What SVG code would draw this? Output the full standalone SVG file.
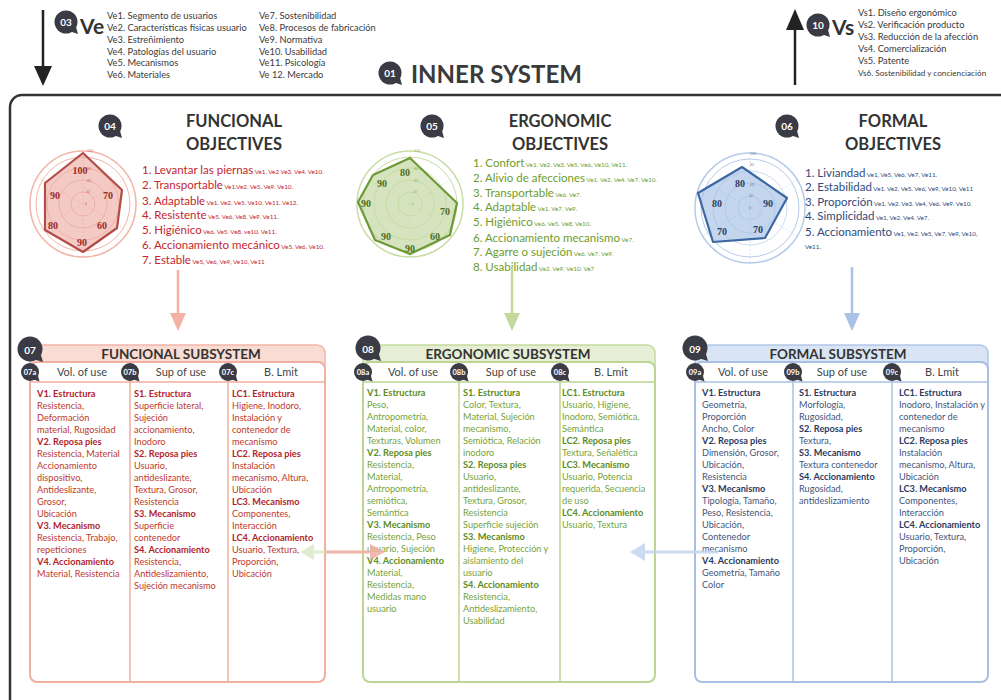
<svg xmlns="http://www.w3.org/2000/svg" xmlns:xlink="http://www.w3.org/1999/xlink" width="1001" height="700" viewBox="0 0 1001 700">
<style>
text{font-family:Lato,"Liberation Sans",sans-serif}
.ve{font-size:9.3px;fill:#3a3a3a}
.big{font-size:21px;font-weight:bold;fill:#333}
.bn{font-size:10px;font-weight:bold;fill:#fff;text-anchor:middle}
.bs{font-size:7.5px;font-weight:bold;fill:#fff;text-anchor:middle}
.ttl{font-size:16.5px;font-weight:bold;fill:#333;text-anchor:middle}
.ob{font-size:11.5px}
.rf{font-size:6.3px}
.red{fill:#c4262e}
.grn{fill:#6e9c2c}
.blu{fill:#2f4a7c}
.rl{font-family:"Liberation Serif",serif;font-size:10px;font-weight:bold;text-anchor:middle}
.tk{font-size:3.5px;text-anchor:middle;opacity:.6}
.sst{font-size:13.5px;font-weight:bold;fill:#333;text-anchor:middle}
.ch{font-size:11px;fill:#444;text-anchor:middle}
.st{font-size:9.2px}
.b{font-weight:bold}
.fs{fill:#c0392b}.fsb{fill:#b3232b}
.es{fill:#76a33a}.esb{fill:#5d8c22}
.ms{fill:#44567c}.msb{fill:#2c3a5e}
</style>
<defs>
<g id="bL"><circle r="11.5" fill="#3b3b45"/><path d="M3,9 L12,12 L9.5,3 Z" fill="#3b3b45"/></g>
<g id="bM"><circle r="12.5" fill="#3b3b45"/><path d="M3,10 L13,13 L10,3 Z" fill="#3b3b45"/></g>
<g id="bS"><circle r="9" fill="#3b3b45"/><path d="M2,7 L9.5,9.5 L7.5,2 Z" fill="#3b3b45"/></g>
</defs>
<rect width="1001" height="700" fill="#fff"/>

<!-- Top Ve block -->
<g id="ve-input">
<line x1="43" y1="10" x2="43" y2="70" stroke="#222" stroke-width="2.5"/>
<path d="M34,66 L52,66 L43,86 Z" fill="#222"/>
<use href="#bL" x="66" y="22"/>
<text x="66" y="26" class="bn">03</text>
<text x="80" y="34" class="big">Ve</text>
<text class="ve"><tspan x="107" y="19">Ve1. Segmento de usuarios</tspan><tspan x="107" y="31">Ve2. Características físicas usuario</tspan><tspan x="107" y="43">Ve3. Estreñimiento</tspan><tspan x="107" y="55">Ve4. Patologías del usuario</tspan><tspan x="107" y="66">Ve5. Mecanismos</tspan><tspan x="107" y="78">Ve6. Materiales</tspan></text>
<text class="ve"><tspan x="259" y="19">Ve7. Sostenibilidad</tspan><tspan x="259" y="31">Ve8. Procesos de fabricación</tspan><tspan x="259" y="43">Ve9. Normativa</tspan><tspan x="259" y="55">Ve10. Usabilidad</tspan><tspan x="259" y="66">Ve11. Psicología</tspan><tspan x="259" y="78">Ve 12. Mercado</tspan></text>
</g>

<g id="title">
<use href="#bL" x="390" y="73"/>
<text x="390" y="77" class="bn">01</text>
<text x="411" y="83" font-size="24" font-weight="bold" fill="#3a3a3a">INNER SYSTEM</text>
</g>

<g id="vs-output">
<line x1="795" y1="85" x2="795" y2="26" stroke="#222" stroke-width="2.5"/>
<path d="M786,30 L804,30 L795,9 Z" fill="#222"/>
<use href="#bL" x="818" y="25"/>
<text x="818" y="29" class="bn">10</text>
<text x="832" y="35" class="big">Vs</text>
<text class="ve"><tspan x="858" y="16">Vs1. Diseño ergonómico</tspan><tspan x="858" y="28">Vs2. Verificación producto</tspan><tspan x="858" y="40">Vs3. Reducción de la afección</tspan><tspan x="858" y="52">Vs4. Comercialización</tspan><tspan x="858" y="64">Vs5. Patente</tspan></text>
<text class="ve" x="858" y="76" style="font-size:8.2px">Vs6. Sostenibilidad y concienciación</text>
</g>

<!-- Inner system container -->
<rect x="10" y="95" width="1010" height="630" rx="12" fill="none" stroke="#333" stroke-width="2.5"/>

<!-- 04 Funcional objectives -->
<g id="funcional-objectives">
<use href="#bL" x="110" y="126"/>
<text x="110" y="130" class="bn">04</text>
<text x="234" y="127" class="ttl">FUNCIONAL</text>
<text x="234" y="150" class="ttl">OBJECTIVES</text>
<g fill="none" stroke="#f2b4a8">
<circle cx="83" cy="204" r="53" stroke-width="1.5"/>
<circle cx="83" cy="204" r="47" stroke-width="1"/>
<circle cx="83" cy="204" r="36" stroke-width=".7"/>
<circle cx="83" cy="204" r="24" stroke-width=".7"/>
<circle cx="83" cy="204" r="12" stroke-width=".7"/>
<path d="M83,151 V257 M37,177 L129,231 M37,231 L129,177" stroke-width=".5" stroke-dasharray="2,2"/>
</g>
<polygon points="83,153 122,190 117,228 83,252 45,230 45,183" fill="#e7958a" fill-opacity=".5" stroke="#b24c48" stroke-width="2.2" stroke-linejoin="round"/>
<g class="red"><text x="90" y="152" class="tk">100</text><text x="89" y="170" class="tk">80</text><text x="89" y="182" class="tk">60</text><text x="88" y="193" class="tk">20</text><text x="86" y="205" class="tk">0</text></g>
<g fill="#9a2a2a"><text x="80" y="174" class="rl">100</text><text x="108" y="199" class="rl">70</text><text x="102" y="229" class="rl">60</text><text x="82" y="246" class="rl">90</text><text x="53" y="229" class="rl">80</text><text x="55" y="199" class="rl">90</text></g>
<g class="red">
<text x="142" y="174"><tspan class="ob">1. Levantar las piernas</tspan><tspan class="rf"> Ve1. Ve2 Ve3. Ve4. Ve10.</tspan></text>
<text x="142" y="189"><tspan class="ob">2. Transportable</tspan><tspan class="rf"> Ve1.Ve2. Ve5. Ve9. Ve10.</tspan></text>
<text x="142" y="205"><tspan class="ob">3. Adaptable</tspan><tspan class="rf"> Ve1.  Ve2. Ve5. Ve10. Ve11. Ve12.</tspan></text>
<text x="142" y="219"><tspan class="ob">4. Resistente</tspan><tspan class="rf"> Ve5. Ve6. Ve8. Ve9. Ve11.</tspan></text>
<text x="142" y="234"><tspan class="ob">5. Higiénico</tspan><tspan class="rf"> Ve6. Ve5. Ve8. ve10. Ve11.</tspan></text>
<text x="142" y="249"><tspan class="ob">6. Accionamiento mecánico</tspan><tspan class="rf"> Ve5. Ve6. Ve10.</tspan></text>
<text x="142" y="264"><tspan class="ob">7. Estable</tspan><tspan class="rf"> Ve5, Ve6, Ve9, Ve10, Ve11</tspan></text>
</g>
</g>

<!-- 05 Ergonomic objectives -->
<g id="ergonomic-objectives">
<use href="#bL" x="432" y="126"/>
<text x="432" y="130" class="bn">05</text>
<text x="560" y="127" class="ttl">ERGONOMIC</text>
<text x="560" y="150" class="ttl">OBJECTIVES</text>
<g fill="none" stroke="#c9dca6">
<circle cx="410" cy="204" r="53" stroke-width="1.5"/>
<circle cx="410" cy="204" r="47" stroke-width="1"/>
<circle cx="410" cy="204" r="36" stroke-width=".7"/>
<circle cx="410" cy="204" r="24" stroke-width=".7"/>
<circle cx="410" cy="204" r="12" stroke-width=".7"/>
<path d="M410,151 V257 M364,177 L456,231 M364,231 L456,177" stroke-width=".5" stroke-dasharray="2,2"/>
</g>
<polygon points="410,158 457,203 450,235 410,254 375,240 358,202 373,175" fill="#b9d292" fill-opacity=".6" stroke="#6e9a36" stroke-width="2.2" stroke-linejoin="round"/>
<g class="grn"><text x="417" y="152" class="tk">100</text><text x="416" y="170" class="tk">80</text><text x="416" y="182" class="tk">60</text><text x="415" y="193" class="tk">20</text><text x="413" y="205" class="tk">0</text></g>
<g fill="#4f6e22"><text x="405" y="176" class="rl">80</text><text x="382" y="187" class="rl">90</text><text x="366" y="207" class="rl">90</text><text x="445" y="215" class="rl">70</text><text x="435" y="240" class="rl">60</text><text x="410" y="252" class="rl">90</text><text x="386" y="240" class="rl">90</text></g>
<g class="grn">
<text x="473" y="167"><tspan class="ob">1. Confort</tspan><tspan class="rf">  Ve1. Ve2. Ve3. Ve5. Ve6, Ve10,  Ve11.</tspan></text>
<text x="473" y="182"><tspan class="ob">2. Alivio de afecciones</tspan><tspan class="rf"> Ve1. Ve2.  Ve4. Ve7. Ve10.</tspan></text>
<text x="473" y="197"><tspan class="ob">3. Transportable</tspan><tspan class="rf"> Ve6. Ve7.</tspan></text>
<text x="473" y="211"><tspan class="ob">4. Adaptable</tspan><tspan class="rf"> Ve1.  Ve7. Ve9.</tspan></text>
<text x="473" y="226"><tspan class="ob">5. Higiénico</tspan><tspan class="rf"> Ve6. Ve5. Ve8. Ve10.</tspan></text>
<text x="473" y="242"><tspan class="ob">6. Accionamiento mecanismo</tspan><tspan class="rf"> Ve7.</tspan></text>
<text x="473" y="256"><tspan class="ob">7. Agarre o sujeción</tspan><tspan class="rf"> Ve6. Ve7. Ve9.</tspan></text>
<text x="473" y="271"><tspan class="ob">8. Usabilidad</tspan><tspan class="rf"> Ve2. Ve9. Ve10. Ve7</tspan></text>
</g>
</g>

<!-- 06 Formal objectives -->
<g id="formal-objectives">
<use href="#bL" x="787" y="126"/>
<text x="787" y="130" class="bn">06</text>
<text x="893" y="127" class="ttl">FORMAL</text>
<text x="893" y="150" class="ttl">OBJECTIVES</text>
<g fill="none" stroke="#b5cbe8">
<circle cx="750" cy="208" r="55" stroke-width="1.5"/>
<circle cx="750" cy="208" r="49" stroke-width="1"/>
<circle cx="750" cy="208" r="37" stroke-width=".7"/>
<circle cx="750" cy="208" r="25" stroke-width=".7"/>
<circle cx="750" cy="208" r="12" stroke-width=".7"/>
<path d="M750,153 V263 M703,180 L797,236 M703,236 L797,180" stroke-width=".5" stroke-dasharray="2,2"/>
</g>
<polygon points="742,167 787,198 765,238 713,242 698,193" fill="#9dbbe2" fill-opacity=".6" stroke="#3d67a3" stroke-width="2.2" stroke-linejoin="round"/>
<g class="blu"><text x="753" y="155" class="tk">100</text><text x="752" y="166" class="tk">80</text><text x="752" y="186" class="tk">40</text><text x="751" y="197" class="tk">20</text><text x="750" y="209" class="tk">0</text></g>
<g fill="#2d3f63"><text x="740" y="187" class="rl">80</text><text x="717" y="207" class="rl">80</text><text x="768" y="207" class="rl">90</text><text x="722" y="235" class="rl">70</text><text x="758" y="233" class="rl">70</text></g>
<g class="blu">
<text x="805" y="177"><tspan class="ob">1. Liviandad</tspan><tspan class="rf"> Ve1, Ve5, Ve6, Ve7, Ve11.</tspan></text>
<text x="805" y="191"><tspan class="ob">2. Estabilidad</tspan><tspan class="rf"> Ve1. Ve2. Ve5. Ve6, Ve9, Ve10,  Ve11</tspan></text>
<text x="805" y="206"><tspan class="ob">3. Proporción</tspan><tspan class="rf">  Ve1. Ve2.  Ve3. Ve4, Ve6. Ve9. Ve10.</tspan></text>
<text x="805" y="220"><tspan class="ob">4. Simplicidad</tspan><tspan class="rf"> Ve1, Ve2. Ve4. Ve7.</tspan></text>
<text x="805" y="236"><tspan class="ob">5. Accionamiento</tspan><tspan class="rf"> Ve1,  Ve2. Ve5, Ve7, Ve9, Ve10,</tspan></text>
<text x="805" y="249" class="rf">Ve11.</text>
</g>
</g>

<!-- 07 Funcional subsystem -->
<g id="funcional-subsystem">
<rect x="30" y="345" width="295" height="40" rx="8" fill="#f9dcd3" stroke="#f2b4a8" stroke-width="1.5"/>
<rect x="30" y="362" width="295" height="320" rx="7" fill="#fff" stroke="#f2aea0" stroke-width="2"/>
<line x1="30" y1="382" x2="325" y2="382" stroke="#f2aea0" stroke-width="1.5"/>
<line x1="130" y1="362" x2="130" y2="682" stroke="#f2aea0" stroke-width="1.5"/>
<line x1="228" y1="362" x2="228" y2="682" stroke="#f2aea0" stroke-width="1.5"/>
<use href="#bM" x="30" y="349"/>
<text x="30" y="354" class="bn" font-size="12">07</text>
<text x="181" y="359" class="sst">FUNCIONAL SUBSYSTEM</text>
<use href="#bS" x="30" y="372"/><text x="30" y="375" class="bs">07a</text>
<use href="#bS" x="130" y="372"/><text x="130" y="375" class="bs">07b</text>
<use href="#bS" x="228" y="372"/><text x="228" y="375" class="bs">07c</text>
<text x="82" y="376" class="ch">Vol. of use</text>
<text x="181" y="376" class="ch">Sup of use</text>
<text x="281" y="376" class="ch">B. Lmit</text>
<text class="st fs"><tspan x="37" y="397" class="b fsb">V1. Estructura</tspan><tspan x="37" dy="12">Resistencia,</tspan><tspan x="37" dy="12">Deformación</tspan><tspan x="37" dy="12">material, Rugosidad</tspan><tspan x="37" dy="12" class="b fsb">V2. Reposa pies</tspan><tspan x="37" dy="12">Resistencia, Material</tspan><tspan x="37" dy="12">Accionamiento</tspan><tspan x="37" dy="12">dispositivo,</tspan><tspan x="37" dy="12">Antideslizante,</tspan><tspan x="37" dy="12">Grosor,</tspan><tspan x="37" dy="12">Ubicación</tspan><tspan x="37" dy="12" class="b fsb">V3. Mecanismo</tspan><tspan x="37" dy="12">Resistencia, Trabajo,</tspan><tspan x="37" dy="12">repeticiones</tspan><tspan x="37" dy="12" class="b fsb">V4. Accionamiento</tspan><tspan x="37" dy="12">Material, Resistencia</tspan></text>
<text class="st fs"><tspan x="134" y="397" class="b fsb">S1. Estructura</tspan><tspan x="134" dy="12">Superficie lateral,</tspan><tspan x="134" dy="12">Sujeción</tspan><tspan x="134" dy="12">accionamiento,</tspan><tspan x="134" dy="12">Inodoro</tspan><tspan x="134" dy="12" class="b fsb">S2. Reposa pies</tspan><tspan x="134" dy="12">Usuario,</tspan><tspan x="134" dy="12">antideslizante,</tspan><tspan x="134" dy="12">Textura, Grosor,</tspan><tspan x="134" dy="12">Resistencia</tspan><tspan x="134" dy="12" class="b fsb">S3. Mecanismo</tspan><tspan x="134" dy="12">Superficie</tspan><tspan x="134" dy="12">contenedor</tspan><tspan x="134" dy="12" class="b fsb">S4. Accionamiento</tspan><tspan x="134" dy="12">Resistencia,</tspan><tspan x="134" dy="12">Antideslizamiento,</tspan><tspan x="134" dy="12">Sujeción mecanismo</tspan></text>
<text class="st fs"><tspan x="232" y="397" class="b fsb">LC1. Estructura</tspan><tspan x="232" dy="12">Higiene, Inodoro,</tspan><tspan x="232" dy="12">Instalación y</tspan><tspan x="232" dy="12">contenedor de</tspan><tspan x="232" dy="12">mecanismo</tspan><tspan x="232" dy="12" class="b fsb">LC2. Reposa pies</tspan><tspan x="232" dy="12">Instalación</tspan><tspan x="232" dy="12">mecanismo, Altura,</tspan><tspan x="232" dy="12">Ubicación</tspan><tspan x="232" dy="12" class="b fsb">LC3. Mecanismo</tspan><tspan x="232" dy="12">Componentes,</tspan><tspan x="232" dy="12">Interacción</tspan><tspan x="232" dy="12" class="b fsb">LC4. Accionamiento</tspan><tspan x="232" dy="12">Usuario, Textura,</tspan><tspan x="232" dy="12">Proporción,</tspan><tspan x="232" dy="12">Ubicación</tspan></text>
</g>

<!-- 08 Ergonomic subsystem -->
<g id="ergonomic-subsystem">
<rect x="363" y="345" width="292" height="40" rx="8" fill="#e6efd6" stroke="#c3da9c" stroke-width="1.5"/>
<rect x="363" y="362" width="292" height="320" rx="7" fill="#fff" stroke="#bcd595" stroke-width="2"/>
<line x1="363" y1="382" x2="655" y2="382" stroke="#bcd595" stroke-width="1.5"/>
<line x1="459" y1="362" x2="459" y2="682" stroke="#bcd595" stroke-width="1.5"/>
<line x1="560" y1="362" x2="560" y2="682" stroke="#bcd595" stroke-width="1.5"/>
<use href="#bM" x="368" y="348"/>
<text x="368" y="353" class="bn" font-size="12">08</text>
<text x="508" y="359" class="sst">ERGONOMIC SUBSYSTEM</text>
<use href="#bS" x="363" y="372"/><text x="363" y="375" class="bs">08a</text>
<use href="#bS" x="459" y="372"/><text x="459" y="375" class="bs">08b</text>
<use href="#bS" x="560" y="372"/><text x="560" y="375" class="bs">08c</text>
<text x="413" y="376" class="ch">Vol. of use</text>
<text x="511" y="376" class="ch">Sup of use</text>
<text x="611" y="376" class="ch">B. Lmit</text>
<text class="st es"><tspan x="367" y="396" class="b esb">V1. Estructura</tspan><tspan x="367" dy="12">Peso,</tspan><tspan x="367" dy="12">Antropometría,</tspan><tspan x="367" dy="12">Material, color,</tspan><tspan x="367" dy="12">Texturas, Volumen</tspan><tspan x="367" dy="12" class="b esb">V2. Reposa pies</tspan><tspan x="367" dy="12">Resistencia,</tspan><tspan x="367" dy="12">Material,</tspan><tspan x="367" dy="12">Antropometría,</tspan><tspan x="367" dy="12">semiótica,</tspan><tspan x="367" dy="12">Semántica</tspan><tspan x="367" dy="12" class="b esb">V3. Mecanismo</tspan><tspan x="367" dy="12">Resistencia, Peso</tspan><tspan x="367" dy="12">usuario, Sujeción</tspan><tspan x="367" dy="12" class="b esb">V4. Accionamiento</tspan><tspan x="367" dy="12">Material,</tspan><tspan x="367" dy="12">Resistencia,</tspan><tspan x="367" dy="12">Medidas mano</tspan><tspan x="367" dy="12">usuario</tspan></text>
<text class="st es"><tspan x="463" y="396" class="b esb">S1. Estructura</tspan><tspan x="463" dy="12">Color, Textura,</tspan><tspan x="463" dy="12">Material, Sujeción</tspan><tspan x="463" dy="12">mecanismo,</tspan><tspan x="463" dy="12">Semiótica, Relación</tspan><tspan x="463" dy="12">inodoro</tspan><tspan x="463" dy="12" class="b esb">S2. Reposa pies</tspan><tspan x="463" dy="12">Usuario,</tspan><tspan x="463" dy="12">antideslizante,</tspan><tspan x="463" dy="12">Textura, Grosor,</tspan><tspan x="463" dy="12">Resistencia</tspan><tspan x="463" dy="12">Superficie sujeción</tspan><tspan x="463" dy="12" class="b esb">S3. Mecanismo</tspan><tspan x="463" dy="12">Higiene, Protección y</tspan><tspan x="463" dy="12">aislamiento del</tspan><tspan x="463" dy="12">usuario</tspan><tspan x="463" dy="12" class="b esb">S4. Accionamiento</tspan><tspan x="463" dy="12">Resistencia,</tspan><tspan x="463" dy="12">Antideslizamiento,</tspan><tspan x="463" dy="12">Usabilidad</tspan></text>
<text class="st es"><tspan x="562" y="396" class="b esb">LC1. Estructura</tspan><tspan x="562" dy="12">Usuario, Higiene,</tspan><tspan x="562" dy="12">Inodoro, Semiótica,</tspan><tspan x="562" dy="12">Semántica</tspan><tspan x="562" dy="12" class="b esb">LC2. Reposa pies</tspan><tspan x="562" dy="12">Textura, Señalética</tspan><tspan x="562" dy="12" class="b esb">LC3. Mecanismo</tspan><tspan x="562" dy="12">Usuario, Potencia</tspan><tspan x="562" dy="12">requerida, Secuencia</tspan><tspan x="562" dy="12">de uso</tspan><tspan x="562" dy="12" class="b esb">LC4. Accionamiento</tspan><tspan x="562" dy="12">Usuario, Textura</tspan></text>
</g>

<!-- 09 Formal subsystem -->
<g id="formal-subsystem">
<rect x="695" y="345" width="293" height="40" rx="8" fill="#d9e5f4" stroke="#b3c8e6" stroke-width="1.5"/>
<rect x="695" y="362" width="293" height="320" rx="7" fill="#fff" stroke="#a9c0e3" stroke-width="2"/>
<line x1="695" y1="382" x2="988" y2="382" stroke="#a9c0e3" stroke-width="1.5"/>
<line x1="793" y1="362" x2="793" y2="682" stroke="#a9c0e3" stroke-width="1.5"/>
<line x1="892" y1="362" x2="892" y2="682" stroke="#a9c0e3" stroke-width="1.5"/>
<use href="#bM" x="695" y="348"/>
<text x="695" y="353" class="bn" font-size="12">09</text>
<text x="838" y="359" class="sst">FORMAL SUBSYSTEM</text>
<use href="#bS" x="695" y="372"/><text x="695" y="375" class="bs">09a</text>
<use href="#bS" x="793" y="372"/><text x="793" y="375" class="bs">09b</text>
<use href="#bS" x="892" y="372"/><text x="892" y="375" class="bs">09c</text>
<text x="743" y="376" class="ch">Vol. of use</text>
<text x="842" y="376" class="ch">Sup of use</text>
<text x="942" y="376" class="ch">B. Lmit</text>
<text class="st ms"><tspan x="702" y="396" class="b msb">V1. Estructura</tspan><tspan x="702" dy="12">Geometría,</tspan><tspan x="702" dy="12">Proporción</tspan><tspan x="702" dy="12">Ancho, Color</tspan><tspan x="702" dy="12" class="b msb">V2. Reposa pies</tspan><tspan x="702" dy="12">Dimensión, Grosor,</tspan><tspan x="702" dy="12">Ubicación,</tspan><tspan x="702" dy="12">Resistencia</tspan><tspan x="702" dy="12" class="b msb">V3. Mecanismo</tspan><tspan x="702" dy="12">Tipología, Tamaño,</tspan><tspan x="702" dy="12">Peso, Resistencia,</tspan><tspan x="702" dy="12">Ubicación,</tspan><tspan x="702" dy="12">Contenedor</tspan><tspan x="702" dy="12">mecanismo</tspan><tspan x="702" dy="12" class="b msb">V4. Accionamiento</tspan><tspan x="702" dy="12">Geometría, Tamaño</tspan><tspan x="702" dy="12">Color</tspan></text>
<text class="st ms"><tspan x="799" y="396" class="b msb">S1. Estructura</tspan><tspan x="799" dy="12">Morfología,</tspan><tspan x="799" dy="12">Rugosidad,</tspan><tspan x="799" dy="12" class="b msb">S2. Reposa pies</tspan><tspan x="799" dy="12">Textura,</tspan><tspan x="799" dy="12" class="b msb">S3. Mecanismo</tspan><tspan x="799" dy="12">Textura contenedor</tspan><tspan x="799" dy="12" class="b msb">S4. Accionamiento</tspan><tspan x="799" dy="12">Rugosidad,</tspan><tspan x="799" dy="12">antideslizamiento</tspan></text>
<text class="st ms"><tspan x="899" y="396" class="b msb">LC1. Estructura</tspan><tspan x="899" dy="12">Inodoro, Instalación y</tspan><tspan x="899" dy="12">contenedor de</tspan><tspan x="899" dy="12">mecanismo</tspan><tspan x="899" dy="12" class="b msb">LC2. Reposa pies</tspan><tspan x="899" dy="12">Instalación</tspan><tspan x="899" dy="12">mecanismo, Altura,</tspan><tspan x="899" dy="12">Ubicación</tspan><tspan x="899" dy="12" class="b msb">LC3. Mecanismo</tspan><tspan x="899" dy="12">Componentes,</tspan><tspan x="899" dy="12">Interacción</tspan><tspan x="899" dy="12" class="b msb">LC4. Accionamiento</tspan><tspan x="899" dy="12">Usuario, Textura,</tspan><tspan x="899" dy="12">Proporción,</tspan><tspan x="899" dy="12">Ubicación</tspan></text>
</g>

<!-- Connectors -->
<g id="connectors">
<line x1="178" y1="270" x2="178" y2="316" stroke="#f3b2a4" stroke-width="2.5"/>
<path d="M170,313 L186,313 L178,331 Z" fill="#f3b2a4"/>
<line x1="512" y1="267" x2="512" y2="316" stroke="#c3da9c" stroke-width="2.5"/>
<path d="M504,313 L520,313 L512,331 Z" fill="#c3da9c"/>
<line x1="852" y1="267" x2="852" y2="316" stroke="#a9c2e6" stroke-width="2.5"/>
<path d="M844,313 L860,313 L852,331 Z" fill="#a9c2e6"/>
<g opacity=".85">
<line x1="368" y1="552" x2="312" y2="552" stroke="#dde9c9" stroke-width="3"/>
<path d="M314,544 L314,560 L300,552 Z" fill="#dde9c9"/>
<line x1="325" y1="552" x2="372" y2="552" stroke="#f0aca0" stroke-width="3"/>
<path d="M370,544 L370,560 L385,552 Z" fill="#f0aca0"/>
<line x1="718" y1="552" x2="642" y2="552" stroke="#c3d5ee" stroke-width="3"/>
<path d="M645,543 L645,561 L630,552 Z" fill="#c3d5ee"/>
</g>
</g>
</svg>
